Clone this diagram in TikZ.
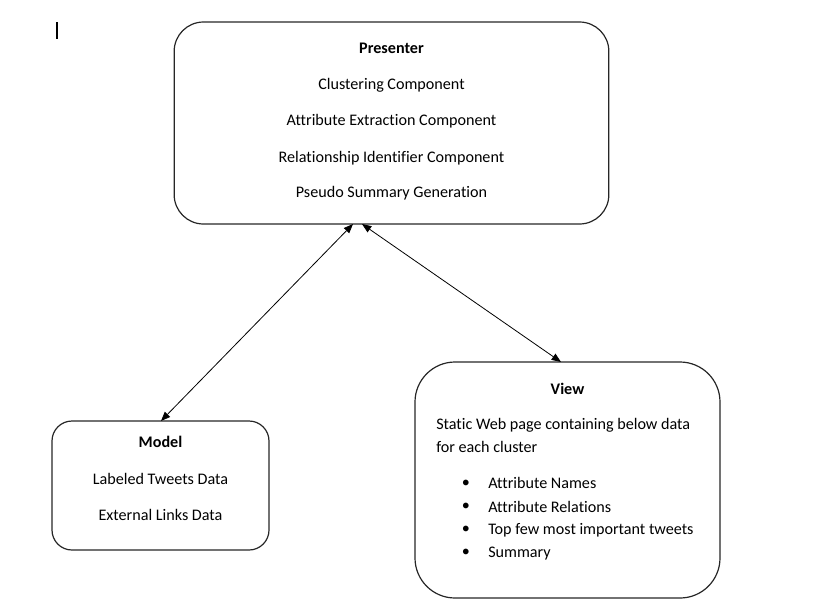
\documentclass[tikz,border=0pt]{standalone}
\usepackage{fontspec}
\setmainfont[Ligatures=NoCommon]{Carlito}
\usetikzlibrary{arrows.meta,positioning,shapes}

\tikzset{box/.style={draw=black!85, rounded corners=#1, line width=0.9pt, inner sep=0pt},
box/.default=15pt,
txt/.style={font=\fontsize{12.1}{14}\selectfont, inner sep=0pt},
hd/.style={font=\fontsize{12.1}{14}\selectfont\bfseries, inner sep=0pt},
link/.style={{Triangle[length=7pt,width=5.5pt]}-{Triangle[length=7pt,width=5.5pt]}, line width=0.6pt}}

\begin{document}
\begin{tikzpicture}[x=0.75pt,y=-0.75pt]
\useasboundingbox (0,0) rectangle (817,615);
\draw[line width=2pt] (57,22) -- (57,39);
\node[box=22pt,minimum width=326pt,minimum height=151.5pt] (pres) at (391.5,123) {};
\node[box=15pt,minimum width=162.75pt,minimum height=96.75pt] (model) at (160.5,485.5) {};
\node[box=30pt,minimum width=228.75pt,minimum height=177pt] (view) at (567.5,480) {};
\node[hd] (ptitle) at (391.5,48) {Presenter};
\node[txt] (p1) at (391.5,85) {Clustering Component};
\node[txt] (p2) at (391.5,121) {Attribute Extraction Component};
\node[txt] (p3) at (391.5,158) {Relationship Identifier Component};
\node[txt] (p4) at (391.5,193) {Pseudo Summary Generation};
\node[hd] (mtitle) at (160.5,442) {Model};
\node[txt] (m1) at (160.5,479) {Labeled Tweets Data};
\node[txt] (m2) at (160.5,515) {External Links Data};
\node[hd] (vtitle) at (567.5,389) {View};
\node[txt,anchor=west] (v1) at (436,425) {Static Web page containing below data};
\node[txt,anchor=west] (v2) at (436,447) {for each cluster};
\foreach \t [count=\i] in {Attribute Names,Attribute Relations,Top few most important tweets,Summary}
{
\node[txt] (b\i) at (466,460+23.3*\i) {\textbullet};
\node[txt,anchor=west] (i\i) at (488,460+23.3*\i) {\t};
}
\coordinate (pa) at (353,224);
\coordinate (pb) at (362,224);
\coordinate (ma) at (161,421);
\coordinate (va) at (561,362);
\draw[link] (pa) -- (ma);
\draw[link] (pb) -- (va);
\end{tikzpicture}
\end{document}
